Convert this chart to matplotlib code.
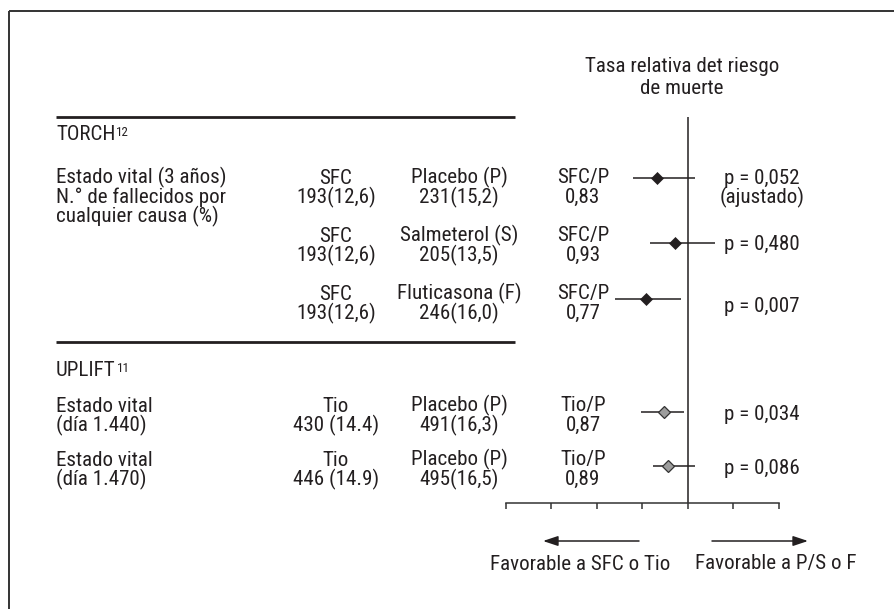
import matplotlib
matplotlib.use('Agg')
import matplotlib.pyplot as plt
from matplotlib import font_manager
from matplotlib.font_manager import FontProperties
from matplotlib.patches import Rectangle

# ---- data ----
studies = ["TORCH", "UPLIFT"]
study_refs = ["12", "11"]
left_labels = [["Estado vital (3 años)", "N.° de fallecidos por", "cualquier causa (%)"],
               [], [],
               ["Estado vital", "(día 1.440)"],
               ["Estado vital", "(día 1.470)"]]
treat_a = ["SFC", "SFC", "SFC", "Tio", "Tio"]
deaths_a = ["193(12,6)", "193(12,6)", "193(12,6)", "430 (14.4)", "446 (14.9)"]
treat_b = ["Placebo (P)", "Salmeterol (S)", "Fluticasona (F)", "Placebo (P)", "Placebo (P)"]
deaths_b = ["231(15,2)", "205(13,5)", "246(16,0)", "491(16,3)", "495(16,5)"]
ratio_names = ["SFC/P", "SFC/P", "SFC/P", "Tio/P", "Tio/P"]
hr = [0.83, 0.93, 0.77, 0.87, 0.89]
ci_lo = [0.70, 0.79, 0.60, 0.74, 0.81]
ci_hi = [1.04, 1.15, 0.96, 0.98, 1.04]
p_values = ["0,052", "0,480", "0,007", "0,034", "0,086"]
p_notes = ["(ajustado)", "", "", "", ""]
row_study = [0, 0, 0, 1, 1]
axis_ticks = [0, 0.25, 0.5, 0.75, 1.0, 1.25, 1.5]

# ---- layout (pixels, from top-left) ----
W, H = 895, 609
ink = '#231f20'
line_y = [176, 234, 292, 404, 458]
mark_y = [178, 243, 299, 412, 466]
p_y = [176, 243, 305, 412, 466]
study_y = [133, 369]
rule_y = [117, 342]
gap = 19.5

# pick a narrow face if one is installed, otherwise plain Liberation Sans
fp = None
pref = ['Liberation Sans Narrow', 'Roboto Condensed', 'Open Sans Condensed',
        'Noto Sans Condensed', 'DejaVu Sans Condensed', 'Noto Sans', 'DejaVu Sans']
cands = []
for f in font_manager.fontManager.ttflist:
    narrow = ('Narrow' in f.name or 'Condensed' in f.name
              or f.stretch in ('condensed', 'semi-condensed', 'extra-condensed', 'ultra-condensed'))
    if narrow and f.style == 'normal' and f.weight in (400, 'normal', 'regular', 'book'):
        cands.append(f)
cands.sort(key=lambda f: pref.index(f.name) if f.name in pref else len(pref))
if cands:
    fp = FontProperties(fname=cands[0].fname)
else:
    fp = FontProperties(family='Liberation Sans')

fig = plt.figure(figsize=(W / 100, H / 100), dpi=100)
fig.patch.set_facecolor('white')

ov = fig.add_axes([0, 0, 1, 1])
ov.set_xlim(0, W)
ov.set_ylim(H, 0)
ov.axis('off')
rend = fig.canvas.get_renderer()

# size the font so the bottom label is as wide as in the reference (180 px)
probe = ov.text(0, 0, "Favorable a SFC o Tio", fontproperties=fp, fontsize=12)
fs = 12 * 180 / probe.get_window_extent(rend).width
probe.remove()


def put(x, y, s, ha='center', size=None):
    return ov.text(x, y + 7.5, s, ha=ha, va='baseline', fontproperties=fp,
                   fontsize=size or fs, color=ink)


# frame (only top and left edges fall inside the picture)
ov.add_patch(Rectangle((9, 11), W + 20, H + 20, fill=False, lw=1.4, ec='#333333'))

# header
put(682, 65, "Tasa relativa det riesgo")
put(682, 86, "de muerte")

# horizontal rules
for y in rule_y:
    ov.plot([56, 515], [y, y], color=ink, lw=2.0, solid_capstyle='butt')

# study names with superscript references
for s, ref, y in zip(studies, study_refs, study_y):
    t = put(56, y, s, ha='left')
    x1 = t.get_window_extent(rend).x1
    put(x1 + 1, y - 4.5, ref, ha='left', size=fs * 0.62)

# table columns
for i in range(len(hr)):
    y0 = line_y[i]
    for k, lab in enumerate(left_labels[i]):
        put(56, y0 + k * gap, lab, ha='left')
    put(336, y0, treat_a[i])
    put(336, y0 + gap, deaths_a[i])
    put(459, y0, treat_b[i])
    put(459, y0 + gap, deaths_b[i])
    put(583, y0, ratio_names[i])
    put(583, y0 + gap, f"{hr[i]:.2f}".replace('.', ','))
    put(762, p_y[i], "p = " + p_values[i])
    if p_notes[i]:
        put(762, p_y[i] + gap, p_notes[i])

# forest plot axes: x in relative-risk units, y in pixels
fa = fig.add_axes([506 / W, 0, (778.7 - 506) / W, 1])
fa.set_xlim(axis_ticks[0], axis_ticks[-1])
fa.set_ylim(H, 0)
fa.patch.set_alpha(0)
for side in ['top', 'left', 'right']:
    fa.spines[side].set_visible(False)
fa.spines['bottom'].set_position(('data', 503))
fa.spines['bottom'].set_linewidth(1.1)
fa.spines['bottom'].set_color('#333333')
fa.set_xticks(axis_ticks)
fa.set_xticklabels([])
fa.set_yticks([])
fa.tick_params(axis='x', direction='out', length=4, width=1.1, color='#333333')

fa.vlines(1.0, 117, 503, color=ink, lw=1.1)
fa.hlines(mark_y, ci_lo, ci_hi, color=ink, lw=1.1)

styles = [dict(ms=6.4, mfc=ink, mec=ink, mew=0.5),
          dict(ms=5.8, mfc='#9d9d9d', mec='#333333', mew=0.9)]
for i in range(len(hr)):
    fa.plot(hr[i], mark_y[i], 'D', clip_on=False, **styles[row_study[i]])

# direction arrows
arr = dict(arrowstyle='-|>,head_length=0.9,head_width=0.3', mutation_scale=10,
           color=ink, lw=1.1, shrinkA=0, shrinkB=0)
ov.annotate('', xy=(543, 541), xytext=(639, 541), arrowprops=arr)
ov.annotate('', xy=(808, 541), xytext=(712, 541), arrowprops=arr)
put(580, 562, "Favorable a SFC o Tio")
put(776, 562, "Favorable a P/S o F")

fig.savefig('out.png', dpi=100, facecolor='white')
